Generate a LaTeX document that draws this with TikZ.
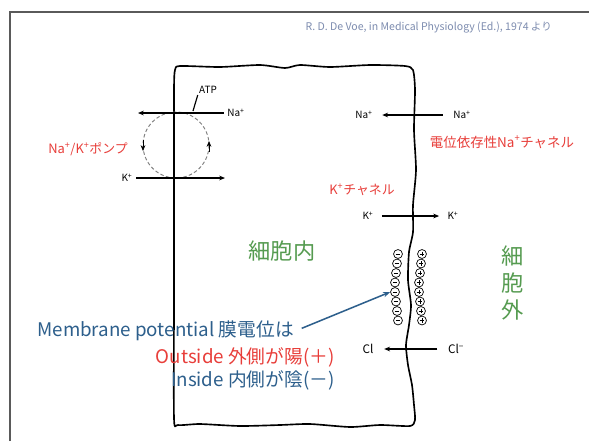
\documentclass[tikz,border=0pt]{standalone}
\usepackage{fontspec}
\setmainfont{Noto Sans CJK JP}
\usepackage{tikz}
\usetikzlibrary{arrows.meta}

\definecolor{slidegray}{RGB}{90,90,90}
\definecolor{refgray}{RGB}{125,140,175}
\definecolor{labelred}{RGB}{232,62,58}
\definecolor{potblue}{RGB}{45,95,140}
\definecolor{cellgreen}{RGB}{85,155,80}

\tikzset{
  ion/.style={font=\fontsize{8.5}{9}\selectfont, inner sep=1pt},
  redlabel/.style={text=labelred, font=\fontsize{11}{12}\selectfont, inner sep=0pt},
  potlabel/.style={font=\fontsize{16}{17}\selectfont, inner sep=1pt},
  flux/.style={line width=0.9pt, -{Stealth[length=5pt,width=4pt]}},
  membrane/.style={line width=1.4pt, line join=round},
  negcharge/.style={circle, draw, line width=0.6pt, minimum size=7.6pt, inner sep=0pt,
    path picture={\draw[line width=0.6pt]
      ([xshift=1.7pt]path picture bounding box.west) -- ([xshift=-1.7pt]path picture bounding box.east);}},
  poscharge/.style={circle, draw, line width=0.6pt, minimum size=7.6pt, inner sep=0pt,
    path picture={\draw[line width=0.6pt]
      ([xshift=1.7pt]path picture bounding box.west) -- ([xshift=-1.7pt]path picture bounding box.east)
      ([yshift=-1.7pt]path picture bounding box.north) -- ([yshift=1.7pt]path picture bounding box.south);}}
}

\begin{document}
\begin{tikzpicture}[x=0.03cm, y=-0.03cm]
    \useasboundingbox (0,0) rectangle (589,441);
    \fill[white] (0,0) rectangle (589,441);

    % slide frame and source
    \draw[slidegray, line width=1.6pt] (10,441) -- (10,12) -- (589,12);
    \node[text=refgray, font=\fontsize{9}{10}\selectfont, anchor=east] (src) at (556,28)
        {R. D. De Voe, in Medical Physiology (Ed.), 1974 より};

    % cell membrane
    \draw[membrane] plot[smooth cycle, tension=0.4] coordinates {
        (174,90) (175,70) (180,66) (220,67) (260,65) (285,68) (300,65) (330,67)
        (370,65) (405,66) (413,70) (415,90) (414,130) (416,170) (413,205) (413,232)
        (409,252) (408,280) (411,305) (409,325) (406,345) (408,365) (412,385)
        (414,405) (415,420) (410,426) (380,425) (350,427) (310,424) (280,425)
        (240,426) (200,424) (178,425) (174,418) (174,300) (174,200)
    };

    % Na/K pump
    \coordinate (pump) at (176,145);
    \draw[gray, densely dashed, line width=0.8pt] (pump) circle (33);
    \draw[line width=0.6pt, -{Stealth[length=5pt,width=4pt]}] (143,140) -- (143,151);
    \draw[line width=0.6pt, -{Stealth[length=5pt,width=4pt]}] (209,152) -- (209,141);
    \node[ion] (napump) at (236,113) {Na\textsuperscript{+}};
    \coordinate (naout) at (138,113);
    \draw[flux, shorten <=2pt] (napump.west) -- (naout);
    \node[ion] (kpump) at (127,178) {K\textsuperscript{+}};
    \coordinate (kin) at (225,178);
    \draw[flux, shorten <=2pt] (kpump.east) -- (kin);
    \node[ion] (atp) at (208,90) {ATP};
    \coordinate (atpsite) at (193,111);
    \draw[line width=1pt] (atp.south west) -- (atpsite);
    \node[redlabel] (pumplabel) at (88,149) {Na\textsuperscript{+}/K\textsuperscript{+}ポンプ};

    % channels
    \node[ion] (nain) at (364,115) {Na\textsuperscript{+}};
    \node[ion] (naext) at (462,115) {Na\textsuperscript{+}};
    \draw[flux, shorten <=8pt, shorten >=7pt] (naext.west) -- (nain.east);
    \node[redlabel, font=\fontsize{11.5}{12}\selectfont] (navlabel) at (502,142) {電位依存性Na\textsuperscript{+}チャネル};

    \node[redlabel] (kchlabel) at (362,190) {K\textsuperscript{+}チャネル};
    \node[ion] (kcin) at (368,216) {K\textsuperscript{+}};
    \node[ion] (kcext) at (453,216) {K\textsuperscript{+}};
    \draw[flux, shorten <=6pt, shorten >=6pt] (kcin.east) -- (kcext.west);

    \node[ion, font=\fontsize{10}{11}\selectfont] (clin) at (368,349) {Cl};
    \node[ion, font=\fontsize{10}{11}\selectfont] (clext) at (456,349) {Cl\textsuperscript{−}};
    \draw[flux, shorten <=8pt, shorten >=8pt] (clext.west) -- (clin.east);

    % charges along the membrane
    \foreach \y/\x [count=\i] in {254/398, 263.5/397, 273/396, 282.5/395,
                                   292/395, 301.5/396, 311/397, 320.5/398} {
        \node[negcharge] (m\i) at (\x,\y) {};
        \node[poscharge] (p\i) at (\x+24,\y) {};
    }

    % inside / outside
    \node[text=cellgreen, font=\fontsize{19}{20}\selectfont] (intra) at (282,251) {細胞内};
    \node[text=cellgreen, font=\fontsize{19}{23}\selectfont, align=center] (extra) at (513,283) {細\\胞\\外};

    % Labels
    \node[potlabel, text=potblue, anchor=west] (mp) at (36,331) {Membrane potential 膜電位は};
    \node[potlabel, text=labelred, anchor=east] (outside) at (336,357) {Outside 外側が陽(＋)};
    \node[potlabel, text=potblue, anchor=east] (inside) at (336,380) {Inside 内側が陰(－)};
    \draw[potblue, line width=1.3pt, -{Stealth[length=6pt]}, shorten <=6pt] (mp.east) -- (m5.west);
\end{tikzpicture}
\end{document}
